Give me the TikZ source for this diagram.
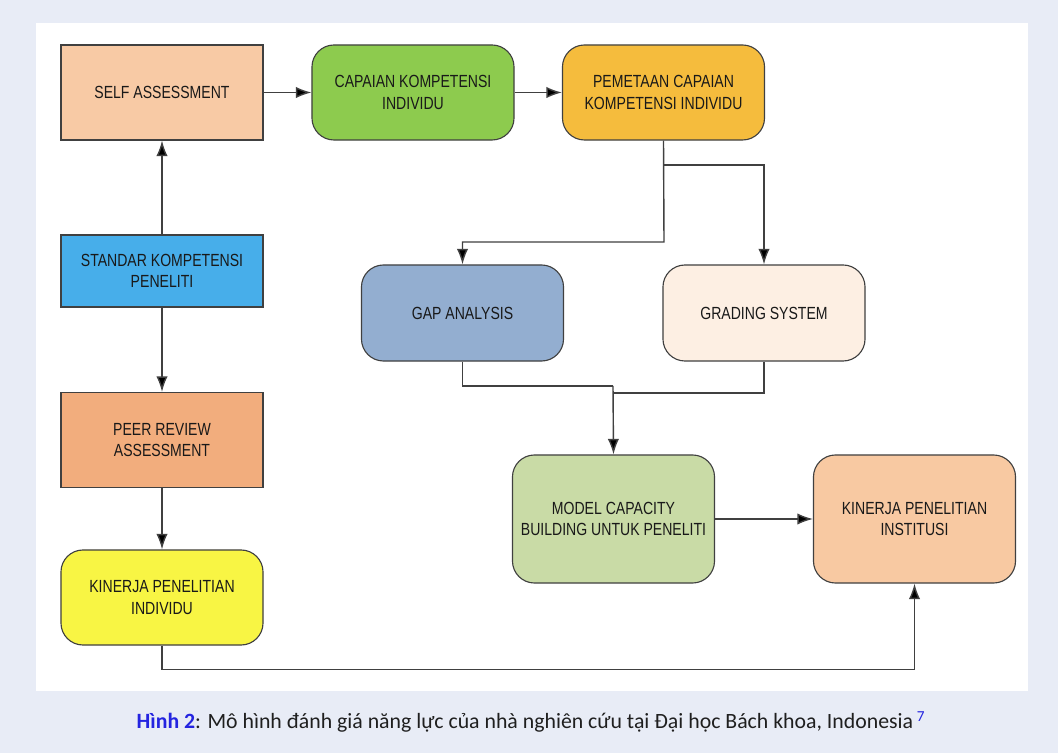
\documentclass[tikz,border=0pt]{standalone}
\usepackage{fontspec}
\setmainfont{Carlito}
\newfontfamily\boxfont[FakeStretch=0.8]{Liberation Sans}
\usetikzlibrary{arrows.meta}

\definecolor{pagebg}{HTML}{E8ECF6}
\definecolor{selfc}{HTML}{F8CAA5}
\definecolor{capaianc}{HTML}{8DCB4E}
\definecolor{pemetaanc}{HTML}{F5BC3D}
\definecolor{standarc}{HTML}{47AEEA}
\definecolor{peerc}{HTML}{F2AD7D}
\definecolor{kinerjac}{HTML}{F8F544}
\definecolor{gapc}{HTML}{93AED0}
\definecolor{gradingc}{HTML}{FDEFE3}
\definecolor{modelc}{HTML}{C9DBA6}
\definecolor{institusic}{HTML}{F8C9A2}
\definecolor{hblue}{HTML}{2424E0}

\tikzset{
  blok/.style={draw=black!75, line width=0.8pt, minimum width=5.05cm, minimum height=2.375cm,
    align=center, text=black!90, font=\boxfont\fontsize{12.5}{15}\selectfont},
  rblok/.style={blok, rounded corners=0.55cm},
  garis/.style={draw=black!75, line width=1pt},
  panah/.style={garis, -{Latex[length=11pt,width=8pt,fill=black]}}
}

\begin{document}
\begin{tikzpicture}[x=0.025cm,y=-0.025cm]

\fill [pagebg] (0,0) rectangle (1058,753);
\fill [white] (36,23) rectangle (1028,691);
\useasboundingbox (0,0) rectangle (1058,753);

\node (self) at (162,92.5) [blok, fill=selfc] {SELF ASSESSMENT};
\node (capaian) at (413,92.5) [rblok, fill=capaianc] {CAPAIAN KOMPETENSI\\INDIVIDU};
\node (pemetaan) at (663.5,92.5) [rblok, fill=pemetaanc] {PEMETAAN CAPAIAN\\KOMPETENSI INDIVIDU};
\node (standar) at (162,271) [blok, fill=standarc, minimum height=1.8cm] {STANDAR KOMPETENSI\\PENELITI};
\node (peer) at (162,440) [blok, fill=peerc] {PEER REVIEW\\ASSESSMENT};
\node (kinerjaind) at (162,597.5) [rblok, fill=kinerjac] {KINERJA PENELITIAN\\INDIVIDU};
\node (gap) at (462.5,313) [rblok, fill=gapc, minimum height=2.4cm] {GAP ANALYSIS};
\node (grading) at (764,313) [rblok, fill=gradingc, minimum height=2.4cm] {GRADING SYSTEM};
\node (model) at (613.5,519) [rblok, fill=modelc, minimum height=3.2cm] {MODEL CAPACITY\\BUILDING UNTUK PENELITI};
\node (kinerjains) at (914.5,519) [rblok, fill=institusic, minimum height=3.2cm] {KINERJA PENELITIAN\\INSTITUSI};

\coordinate (split) at (664,165);
\coordinate (bend) at (664,242);
\coordinate (gapjoin) at (613,386);
\coordinate (gradjoin) at (613,393);

\draw [panah] (self) -- (capaian);
\draw [panah] (capaian) -- (pemetaan);
\draw [panah] (standar) -- (self);
\draw [panah] (standar) -- (peer);
\draw [panah] (peer) -- (kinerjaind);
\draw [panah] (pemetaan.south) -- (bend) -| (gap.north);
\draw [panah] (split) -| (grading.north);
\draw [garis] (gap.south) |- (gapjoin);
\draw [garis] (grading.south) |- (gradjoin);
\draw [panah] (gapjoin) -- (model.north);
\draw [panah] (model) -- (kinerjains);
\draw [panah] (kinerjaind.south) -- ++(0,24) -| (kinerjains.south);

\node (caption) at (531,722) [text=black!88, font=\fontsize{15.5}{18}\selectfont]
  {\textcolor{hblue}{\textbf{Hình 2}}: Mô hình đánh giá năng lực của nhà nghiên cứu tại Đại học Bách khoa, Indonesia\,\textsuperscript{\textcolor{hblue}{7}}};
\end{tikzpicture}
\end{document}
